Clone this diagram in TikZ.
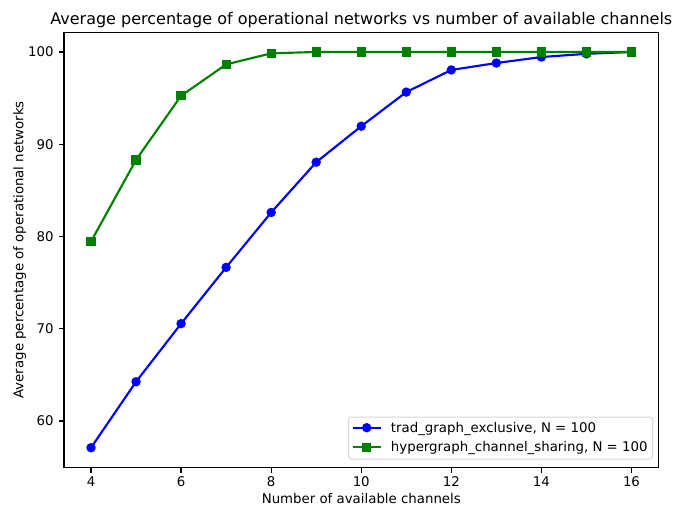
\documentclass[tikz,border=0pt]{standalone}
\usepackage{fontspec}
\setmainfont{DejaVu Sans}
\usetikzlibrary{calc}
\definecolor{mplblue}{HTML}{0000FF}
\definecolor{mplgreen}{HTML}{008000}
\tikzset{
  spine/.style={line width=0.88pt, black},
  tickline/.style={line width=0.88pt, black},
  ticklab/.style={inner sep=0pt, font=\fontsize{10}{12}\selectfont},
  seriesA/.style={line width=1.6pt, mplblue, line join=round},
  seriesB/.style={line width=1.6pt, mplgreen, line join=round},
  dotA/.style={circle, fill=mplblue, inner sep=0pt, minimum size=7.1pt},
  sqB/.style={rectangle, fill=mplgreen, inner sep=0pt, minimum size=6.9pt},
  legbox/.style={draw=black!20, fill=white, fill opacity=0.8, draw opacity=0.8, rounded corners=2.2pt, line width=0.75pt},
  legtext/.style={inner sep=0pt, anchor=base west, font=\fontsize{10}{12}\selectfont},
}
\begin{document}
\begin{tikzpicture}[x=0.75pt, y=-0.75pt]
  \useasboundingbox (0,0) rectangle (675,506);

  % title and axis labels
  \node[inner sep=0pt, anchor=base, font=\fontsize{12}{14}\selectfont] (title) at (361.3,24.5)
    {Average percentage of operational networks vs number of available channels};
  \node[inner sep=0pt, anchor=base, font=\fontsize{10}{12}\selectfont] (xlabel) at (361.3,503.5)
    {Number of available channels};
  \node[inner sep=0pt, anchor=base, rotate=90, font=\fontsize{10}{12}\selectfont] (ylabel) at (23.5,249.8)
    {Average percentage of operational networks};

  % data coordinates: x = channels, y = percentage
  \begin{scope}[shift={(-66.87pt,-730.875pt)}, x={(33.78pt,0pt)}, y={(0pt,6.919pt)}]
    \coordinate (ll) at (3.4,54.955);
    \coordinate (ur) at (16.6,102.145);

    % ticks and tick labels
    \foreach \t in {4,6,...,16} {
      \draw[tickline] (\t,54.955) -- ++(0pt,-3.83pt);
      \node[ticklab, anchor=base] (xt\t) at ([yshift=-14.5pt]\t,54.955) {\t};
    }
    \foreach \v in {60,70,...,100} {
      \draw[tickline] (3.4,\v) -- ++(-3.83pt,0pt);
      \node[ticklab, anchor=east] (yt\v) at ([xshift=-7.6pt]3.4,\v) {\v};
    }

    % trad_graph_exclusive
    \foreach \c/\p in {4/57.1,5/64.25,6/70.55,7/76.65,8/82.6,9/88.05,10/91.95,11/95.65,12/98.05,13/98.8,14/99.45,15/99.8,16/100}
      \coordinate (a\c) at (\c,\p);
    \draw[seriesA] (a4) -- (a5) -- (a6) -- (a7) -- (a8) -- (a9) -- (a10) -- (a11) -- (a12) -- (a13) -- (a14) -- (a15) -- (a16);
    \foreach \c in {4,...,16}
      \node[dotA] (ma\c) at (a\c) {};

    % hypergraph_channel_sharing
    \foreach \c/\p in {4/79.45,5/88.3,6/95.25,7/98.65,8/99.85,9/100,10/100,11/100,12/100,13/100,14/100,15/100,16/100}
      \coordinate (b\c) at (\c,\p);
    \draw[seriesB] (b4) -- (b5) -- (b6) -- (b7) -- (b8) -- (b9) -- (b10) -- (b11) -- (b12) -- (b13) -- (b14) -- (b15) -- (b16);
    \foreach \c in {4,...,16}
      \node[sqB] (mb\c) at (b\c) {};

    % frame
    \draw[spine] (ll) rectangle (ur);
  \end{scope}

  % legend
  \draw[legbox] (348.5,417) rectangle (652.5,459);
  \coordinate (la1) at (352.7,427.7);
  \coordinate (la2) at (380.7,427.7);
  \coordinate (lb1) at (352.7,447.3);
  \coordinate (lb2) at (380.7,447.3);
  \draw[seriesA] (la1) -- (la2);
  \node[dotA] (lma) at ($(la1)!0.5!(la2)$) {};
  \draw[seriesB] (lb1) -- (lb2);
  \node[sqB] (lmb) at ($(lb1)!0.5!(lb2)$) {};
  \node[legtext] (lta) at (390.7,432.4) {trad\_graph\_exclusive, N = 100};
  \node[legtext] (ltb) at (390.7,451.9) {hypergraph\_channel\_sharing, N = 100};
\end{tikzpicture}
\end{document}
